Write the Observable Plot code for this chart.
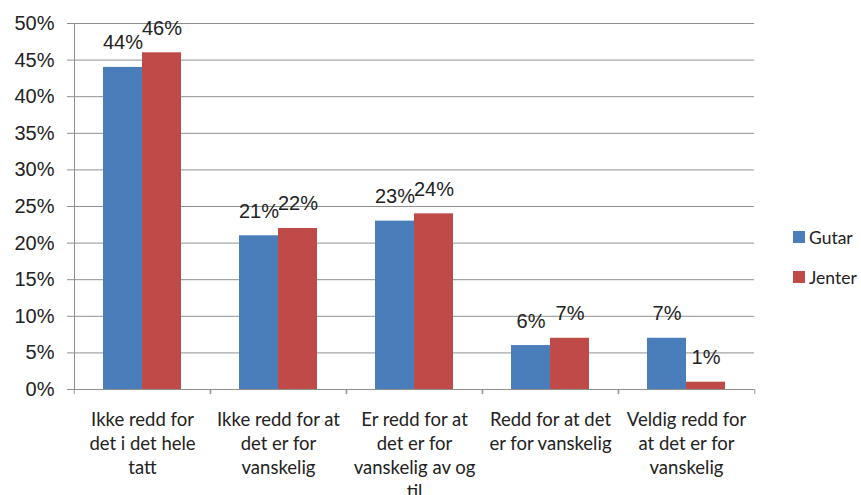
<!DOCTYPE html>
<html>
<head>
<meta charset="utf-8">
<script src="https://cdn.jsdelivr.net/npm/d3@7"></script>
<script src="https://cdn.jsdelivr.net/npm/@observablehq/plot@0.6"></script>
<style>
  html, body { margin: 0; padding: 0; background: #fff; }
  #wrap { position: relative; width: 861px; height: 495px; overflow: hidden; }
  #legend { position: absolute; left: 793px; top: 217px; font-family: Lato, "Open Sans", sans-serif; font-size: 17.5px; color: #222; }
  #legend .item { display: flex; align-items: center; height: 40px; }
  #legend .sw { width: 12px; height: 12px; margin-right: 4px; }
</style>
</head>
<body>
<div id="wrap"></div>
<script>
// Answer categories (line breaks as shown under the axis)
const categories = [
  "Ikke redd for\ndet i det hele\ntatt",
  "Ikke redd for at\ndet er for\nvanskelig",
  "Er redd for at\ndet er for\nvanskelig av og\ntil",
  "Redd for at det\ner for vanskelig",
  "Veldig redd for\nat det er for\nvanskelig"
];
const series = ["Gutar", "Jenter"];
const gutar  = [0.44, 0.21, 0.23, 0.06, 0.07];
const jenter = [0.46, 0.22, 0.24, 0.07, 0.01];
const colors = ["#4A7EBB", "#BE4B48"];
const yTicks = [0, 0.05, 0.10, 0.15, 0.20, 0.25, 0.30, 0.35, 0.40, 0.45, 0.50];

const data = categories.flatMap((c, i) => [
  {category: c, series: series[0], value: gutar[i]},
  {category: c, series: series[1], value: jenter[i]}
]);

const W = 861, H = 495;
const mLeft = 72, mRight = 106, mTop = 23, mBottom = 106;
const band = (W - mLeft - mRight) / categories.length;
const pct = d3.format(".0%");
const grid = "#8f8f8f";
const numFont = "Liberation Sans, Arial, sans-serif";

const chart = Plot.plot({
  width: W,
  height: H,
  marginLeft: mLeft,
  marginRight: mRight,
  marginTop: mTop,
  marginBottom: mBottom,
  style: {background: "#fff", color: "#222"},
  fx: {domain: categories, padding: 0, label: null},
  x: {domain: series, paddingInner: 0, paddingOuter: 0.73, axis: null},
  y: {domain: [0, 0.5], label: null},
  color: {domain: series, range: colors},
  marks: [
    Plot.gridY(yTicks, {stroke: grid, strokeOpacity: 1, strokeWidth: 1}),
    Plot.axisY(yTicks, {
      tickFormat: pct, tickSize: 7, tickPadding: 13, stroke: grid,
      fontSize: 20, fontFamily: numFont, label: null
    }),
    Plot.frame({anchor: "left", facetAnchor: "left", stroke: grid}),
    Plot.barY(data, {fx: "category", x: "series", y: "value", fill: "series"}),
    Plot.ruleY([0], {stroke: grid}),
    Plot.text(data, {
      fx: "category", x: "series", y: "value", text: d => pct(d.value),
      lineAnchor: "bottom", dy: -18, fontSize: 20, fontFamily: numFont, fill: "#222"
    }),
    // category boundary ticks under the baseline
    Plot.axisFx({anchor: "bottom", tickSize: 5, tickFormat: () => "", dx: -band / 2, stroke: grid, label: null}),
    Plot.axisFx([categories[categories.length - 1]], {anchor: "bottom", tickSize: 5, tickFormat: () => "", dx: band / 2, stroke: grid, label: null}),
    Plot.axisFx({
      anchor: "bottom", tickSize: 0, tickPadding: 19, fontSize: 18.5, lineHeight: 1.3,
      fontFamily: "Lato, Open Sans, sans-serif", label: null, fill: "#222"
    })
  ]
});

const wrap = document.getElementById("wrap");
wrap.appendChild(chart);

// Legend on the right
const legend = document.createElement("div");
legend.id = "legend";
series.forEach((s, i) => {
  const item = document.createElement("div");
  item.className = "item";
  const sw = document.createElement("span");
  sw.className = "sw";
  sw.style.background = colors[i];
  const lab = document.createElement("span");
  lab.textContent = s;
  item.appendChild(sw);
  item.appendChild(lab);
  legend.appendChild(item);
});
wrap.appendChild(legend);
</script>
</body>
</html>
